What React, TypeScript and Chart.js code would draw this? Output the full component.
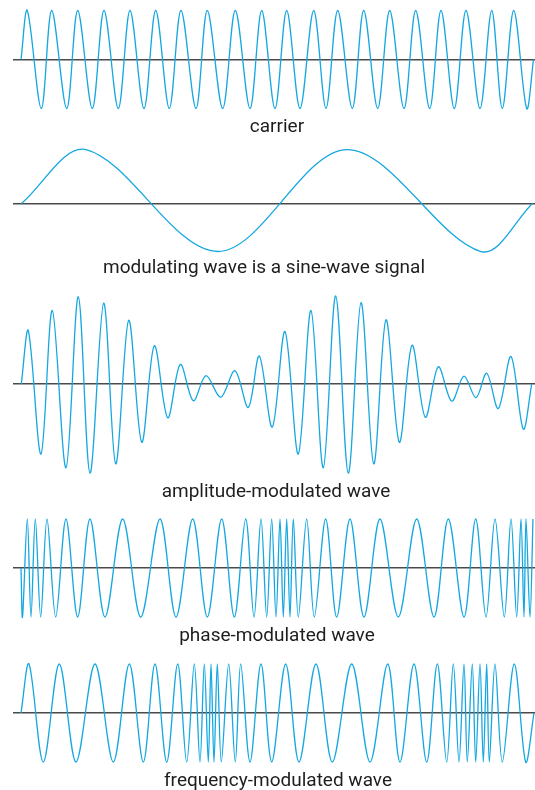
import React, { useEffect, useRef } from "react";
import { Chart, registerables } from "chart.js";

Chart.register(...registerables);

// ---- data (time in µs from the start of the trace; level in carrier-amplitude units) ----
// Each series lists the start point, every visible crest / trough, and the end point.

const carrierTimes = [
  0, 6.3, 20.3, 30.7, 45.7, 56.7, 71.3, 83, 97.3, 109, 123, 134.7, 148.3, 160, 175, 186.3,
  201.7, 214.3, 229, 240.7, 254, 265.7, 279, 292.7, 305, 316.7, 331.3, 342.7, 356.7, 368.7,
  383, 394.7, 408.7, 420, 433.3, 445, 459, 470.7, 481.3, 492.7, 505.7, 512.5,
];
const carrierLevels = [
  0, 1, -1, 1, -1, 1, -1, 1, -1, 1, -1, 1, -1, 1, -1, 1, -1, 1, -1, 1, -1,
  1, -1, 1, -1, 1, -1, 1, -1, 1, -1, 1, -1, 1, -1, 1, -1, 1, -1, 1, -1, 0,
];

const modulatingTimes = [0.5, 65, 197, 326, 460, 511.5];
const modulatingLevels = [0, 1.1, -0.98, 1.1, -0.98, 0];

const amTimes = [
  0.3, 7.3, 20, 31.3, 45, 57.3, 69, 82.7, 94.7, 107.7, 120.7, 133.3, 146.7, 159.3, 172.3, 185,
  199.7, 214, 227.3, 238.3, 251.3, 264, 277.3, 290, 302.3, 314.7, 327.3, 340, 352.7, 365, 378.3,
  391, 404.3, 417.3, 430.7, 443, 455, 465.7, 477.3, 490, 502.3, 510.7,
];
const amLevels = [
  0, 1.09, -1.43, 1.5, -1.71, 1.78, -1.82, 1.65, -1.63, 1.3, -1.19, 0.78, -0.69, 0.4, -0.34,
  0.17, -0.27, 0.27, -0.48, 0.57, -0.88, 1.07, -1.43, 1.5, -1.71, 1.8, -1.82, 1.66, -1.63, 1.31,
  -1.19, 0.79, -0.68, 0.35, -0.35, 0.16, -0.28, 0.22, -0.5, 0.56, -0.92, 0,
];

const pmTimes = [
  0, 1.5, 6.3, 10, 14.3, 19.7, 26, 34.7, 45, 56.7, 69, 84, 101.7, 119.7, 139, 155, 171.7,
  186.3, 200.7, 213.3, 224.7, 233, 240, 245.7, 250.7, 255, 259, 262.3, 265.7, 269, 272.3,
  277.3, 285.7, 293.3, 304.7, 315.7, 329, 343, 359, 377.3, 395.7, 413, 427.3, 443, 454.7,
  465, 474, 483.3, 490, 495.7, 500, 503, 505, 509, 512,
];
const pmLevels = [
  0, -1, 1, -1, 1, -1, 1, -1, 1, -1, 1, -1, 1, -1, 1, -1, 1, -1, 1, -1, 1, -1, 1, -1, 1, -1, 1,
  -1, 1, -1, 1, -1, 1, -1, 1, -1, 1, -1, 1, -1, 1, -1, 1, -1, 1, -1, 1, -1, 1, -1, 1, -1, 1,
  -1, 1,
];

const fmTimes = [
  0, 8, 22.3, 38.3, 55, 74, 92.3, 108.3, 122.3, 134, 145.7, 156.7, 165.7, 173.3, 179, 183.3,
  187.3, 190, 193, 196.3, 200.3, 207.7, 214.3, 219.7, 229, 240, 250.7, 264.7, 278, 295, 311.3,
  330.7, 349, 366.7, 379, 393, 405.7, 416.3, 425.7, 432.3, 438, 443, 446.3, 451.3, 454.7, 459,
  462.3, 465.7, 468.3, 474, 481.3, 493.3, 504.7, 513,
];
const fmLevels = [
  0, 1, -1, 1, -1, 1, -1, 1, -1, 1, -1, 1, -1, 1, -1, 1, -1, 1, -1, 1, -1, 1, -1, 1, -1, 1, -1,
  1, -1, 1, -1, 1, -1, 1, -1, 1, -1, 1, -1, 1, -1, 1, -1, 1, -1, 1, -1, 1, -1, 1, -1, 1, -1, 0,
];

const panelTitles = [
  "carrier",
  "modulating wave is a sine-wave signal",
  "amplitude-modulated wave",
  "phase-modulated wave",
  "frequency-modulated wave",
];

// ---- styles / layout ----
const WAVE_COLOR = "#14a7e1";
const AXIS_COLOR = "#4a4a4a";
const PX_PER_UNIT = 49;
const T_MIN = -8;
const T_MAX = 514;
const PLOT_LEFT = 13;
const PLOT_WIDTH = 522;

const panels = [
  { times: carrierTimes, levels: carrierLevels, top: 0, height: 119, labelTop: 115.5, labelCenter: 277 },
  { times: modulatingTimes, levels: modulatingLevels, top: 144, height: 119, labelTop: 256.5, labelCenter: 264 },
  { times: amTimes, levels: amLevels, top: 286, height: 196, labelTop: 481, labelCenter: 276 },
  { times: pmTimes, levels: pmLevels, top: 508, height: 120, labelTop: 625, labelCenter: 277 },
  { times: fmTimes, levels: fmLevels, top: 653, height: 120, labelTop: 770, labelCenter: 278 },
];

function WavePanel({ times, levels, top, height }: { times: number[]; levels: number[]; top: number; height: number }) {
  const ref = useRef<HTMLCanvasElement>(null);
  useEffect(() => {
    if (!ref.current) return;
    const yMax = height / (2 * PX_PER_UNIT);
    const chart = new Chart(ref.current, {
      type: "line",
      data: {
        datasets: [
          {
            data: times.map((t, i) => ({ x: t, y: levels[i] })),
            borderColor: WAVE_COLOR,
            borderWidth: 1.3,
            pointRadius: 0,
            tension: 1 / 3,
            fill: false,
          },
        ],
      },
      options: {
        animation: false,
        responsive: false,
        events: [],
        layout: { padding: 0 },
        plugins: { legend: { display: false }, tooltip: { enabled: false }, title: { display: false } },
        scales: {
          x: {
            type: "linear",
            min: T_MIN,
            max: T_MAX,
            position: { y: 0 },
            grid: { display: false, drawTicks: false },
            ticks: { display: false },
            border: { display: true, color: AXIS_COLOR, width: 1.6 },
            z: 1,
          },
          y: { type: "linear", min: -yMax, max: yMax, display: false },
        },
      },
    } as any);
    return () => chart.destroy();
  }, [times, levels, height]);
  return (
    <canvas
      ref={ref}
      width={PLOT_WIDTH}
      height={height}
      style={{ position: "absolute", left: PLOT_LEFT, top, width: PLOT_WIDTH, height }}
    />
  );
}

export default function App() {
  return (
    <div style={{ position: "absolute", left: 0, top: 0, width: 535, height: 790, background: "#fff", overflow: "hidden" }}>
      {panels.map((p, i) => (
        <React.Fragment key={i}>
          <WavePanel times={p.times} levels={p.levels} top={p.top} height={p.height} />
          <div
            style={{
              position: "absolute",
              left: p.labelCenter - 250,
              width: 500,
              top: p.labelTop,
              textAlign: "center",
              font: "19px Roboto",
              lineHeight: "19px",
              color: "#1e1e1e",
              whiteSpace: "nowrap",
            }}
          >
            {panelTitles[i]}
          </div>
        </React.Fragment>
      ))}
    </div>
  );
}
